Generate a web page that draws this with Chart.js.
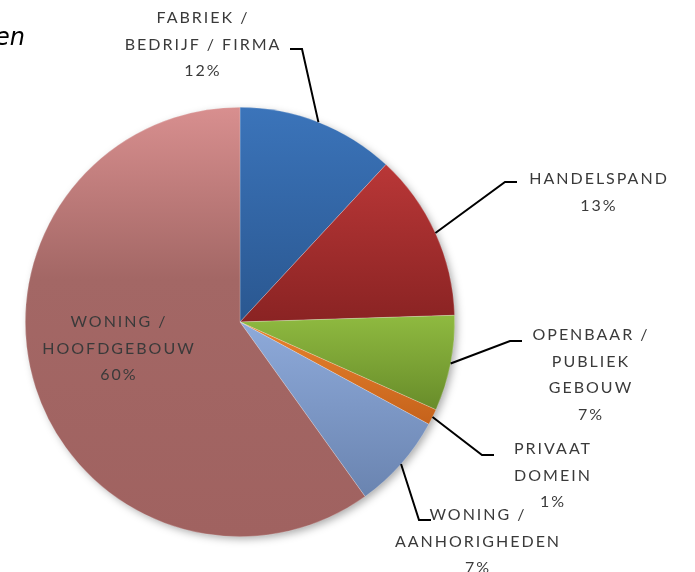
<!DOCTYPE html>
<html>
<head>
<meta charset="utf-8">
<script src="https://cdn.jsdelivr.net/npm/chart.js@4.4.1/dist/chart.umd.min.js"></script>
<style>
  html, body { margin: 0; padding: 0; background: #fff; }
  #wrap { width: 695px; height: 572px; position: relative; }
</style>
</head>
<body>
<div id="wrap"><canvas id="pieChart" width="695" height="572"></canvas></div>
<script>
// data (share of cases, %)
const categories = [
  ['FABRIEK /', 'BEDRIJF / FIRMA'],
  ['HANDELSPAND'],
  ['OPENBAAR /', 'PUBLIEK', 'GEBOUW'],
  ['PRIVAAT', 'DOMEIN'],
  ['WONING /', 'AANHORIGHEDEN'],
  ['WONING /', 'HOOFDGEBOUW']
];
const values = [11.9, 12.6, 7.2, 1.2, 7.2, 59.9];
const titleText = 'en';

// top / bottom colour of each slice gradient
const topColors = ['#3b74ba', '#b93737', '#8fba40', '#e8832e', '#8eaada', '#d88f8f'];
const bottomColors = ['#2a5790', '#8a2323', '#688c2a', '#c5621b', '#6a84b0', '#a06260'];

// where each label block sits, and the elbow of its leader line
const labelLayout = [
  { x: 203, y: 18, elbow: [302, 49], tail: [290, 49] },
  { x: 599, y: 179, elbow: [505, 182], tail: [517, 182] },
  { x: 591, y: 335, elbow: [510, 341], tail: [522, 341] },
  { x: 553, y: 449, elbow: [482, 455], tail: [494, 455] },
  { x: 478, y: 515, elbow: [419, 520], tail: [431, 520] },
  { x: 119, y: 322, elbow: null, tail: null }
];
const lineGap = 26.5;
const labelFont = '16px Lato, "DejaVu Sans", sans-serif';

const total = values.reduce((a, b) => a + b, 0);

const shadowPlugin = {
  id: 'pieShadow',
  beforeDatasetsDraw(chart) {
    const arc = chart.getDatasetMeta(0).data[0];
    if (!arc) return;
    const ctx = chart.ctx;
    ctx.save();
    ctx.shadowColor = 'rgba(0,0,0,0.35)';
    ctx.shadowBlur = 8;
    ctx.shadowOffsetX = 3;
    ctx.shadowOffsetY = 3;
    ctx.fillStyle = '#fff';
    ctx.beginPath();
    ctx.arc(arc.x, arc.y, arc.outerRadius - 1, 0, Math.PI * 2);
    ctx.fill();
    ctx.restore();

    // vertical gradient over each slice's own height
    chart.getDatasetMeta(0).data.forEach((el, i) => {
      let minY = Infinity, maxY = -Infinity;
      for (let k = 0; k <= 60; k++) {
        const a = el.startAngle + (el.endAngle - el.startAngle) * k / 60;
        const yy = el.y + el.outerRadius * Math.sin(a);
        minY = Math.min(minY, yy); maxY = Math.max(maxY, yy);
      }
      minY = Math.min(minY, el.y); maxY = Math.max(maxY, el.y);
      const g = ctx.createLinearGradient(0, minY, 0, maxY);
      g.addColorStop(0, topColors[i]);
      if (i === 5) g.addColorStop(0.4, '#a36765');
      g.addColorStop(1, bottomColors[i]);
      el.options.backgroundColor = g;
    });
  }
};

const labelPlugin = {
  id: 'sliceLabels',
  afterDatasetsDraw(chart) {
    const ctx = chart.ctx;
    const meta = chart.getDatasetMeta(0);
    ctx.save();
    // leader lines
    ctx.strokeStyle = '#000';
    ctx.lineWidth = 2;
    meta.data.forEach((el, i) => {
      const lay = labelLayout[i];
      if (!lay.elbow) return;
      const mid = (el.startAngle + el.endAngle) / 2;
      const ex = el.x + el.outerRadius * Math.cos(mid);
      const ey = el.y + el.outerRadius * Math.sin(mid);
      ctx.beginPath();
      ctx.moveTo(ex, ey);
      ctx.lineTo(lay.elbow[0], lay.elbow[1]);
      ctx.lineTo(lay.tail[0], lay.tail[1]);
      ctx.stroke();
    });
    // label text
    ctx.fillStyle = '#3a3a3a';
    ctx.font = labelFont;
    ctx.letterSpacing = '2px';
    ctx.textAlign = 'center';
    ctx.textBaseline = 'middle';
    categories.forEach((lines, i) => {
      const lay = labelLayout[i];
      const pct = Math.round(values[i] / total * 100) + '%';
      [...lines, pct].forEach((t, j) => {
        ctx.fillText(t, lay.x, lay.y + j * lineGap);
      });
    });
    // title fragment at the left edge
    ctx.letterSpacing = '0px';
    ctx.fillStyle = '#000';
    ctx.font = 'italic 24px "DejaVu Sans", sans-serif';
    ctx.textAlign = 'right';
    ctx.textBaseline = 'alphabetic';
    ctx.fillText(titleText, 25, 45);
    ctx.restore();
  }
};

new Chart(document.getElementById('pieChart'), {
  type: 'pie',
  data: {
    labels: categories,
    datasets: [{
      data: values,
      backgroundColor: topColors,
      borderColor: 'rgba(255,255,255,0.35)',
      borderWidth: 0.6
    }]
  },
  options: {
    responsive: false,
    animation: false,
    rotation: 0,
    layout: { padding: { left: 25, right: 240, top: 107, bottom: 35 } },
    plugins: {
      legend: { display: false },
      tooltip: { enabled: false }
    }
  },
  plugins: [shadowPlugin, labelPlugin]
});
</script>
</body>
</html>
